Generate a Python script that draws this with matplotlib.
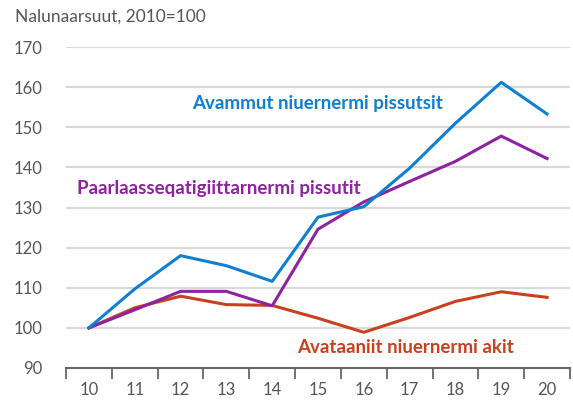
import matplotlib
matplotlib.use('Agg')
import matplotlib.pyplot as plt
from matplotlib.ticker import FixedLocator

plt.rcParams['font.family'] = ['Lato', 'DejaVu Sans']

years = [10, 11, 12, 13, 14, 15, 16, 17, 18, 19, 20]
year_labels = ['10', '11', '12', '13', '14', '15', '16', '17', '18', '19', '20']
avammut = [100, 109.7, 118.0, 115.5, 111.6, 127.6, 130.2, 139.8, 151.0, 161.2, 153.3]
paarlaasseq = [100, 104.5, 109.1, 109.1, 105.5, 124.6, 131.4, 136.5, 141.5, 147.8, 142.2]
avataaniit = [100, 105.0, 107.9, 105.8, 105.6, 102.4, 98.9, 102.6, 106.6, 109.0, 107.6]

blue = '#0f7fd2'
purple = '#8e22a0'
red = '#c8401e'
grey_txt = '#555555'

fig = plt.figure(figsize=(5.73, 4.01), dpi=100)
ax = fig.add_axes([66/573, 33/401, 504/573, 321/401])

ax.set_ylim(90, 170)
ax.set_xlim(9.5, 20.5)
for v in range(100, 171, 10):
    ax.axhline(v, color='#d9d9d9', lw=1.6, zorder=0)

ax.plot(years, avataaniit, color=red, lw=2.2, zorder=3)
ax.plot(years, paarlaasseq, color=purple, lw=2.2, zorder=4)
ax.plot(years, avammut, color=blue, lw=2.2, zorder=5)

ax.set_xticks(years)
ax.set_xticklabels(year_labels)
ax.xaxis.set_minor_locator(FixedLocator([y - 0.5 for y in years] + [20.5]))
ax.tick_params(axis='x', which='major', length=0, pad=10, labelsize=12, labelcolor=grey_txt)
ax.tick_params(axis='x', which='minor', length=8, width=1.3, color='#666666', direction='out')
ax.tick_params(axis='y', length=0, pad=17, labelsize=12, labelcolor=grey_txt)
ax.set_yticks([90] + list(range(100, 171, 10)))

for s in ['top', 'right', 'left']:
    ax.spines[s].set_visible(False)
ax.spines['bottom'].set_color('#666666')
ax.spines['bottom'].set_linewidth(1.5)

fig.text(15/573, 1 - 17/401, 'Nalunaarsuut, 2010=100', fontsize=12.5, color=grey_txt, va='center', ha='left')

ax.text(15.0, 155.8, 'Avammut niuernermi pissutsit', color=blue, fontsize=13.5, fontweight='bold', ha='center', va='center')
ax.text(9.74, 134.8, 'Paarlaasseqatigiittarnermi pissutit', color=purple, fontsize=13.5, fontweight='bold', ha='left', va='center')
ax.text(16.92, 95.2, 'Avataaniit niuernermi akit', color=red, fontsize=13.5, fontweight='bold', ha='center', va='center')

plt.savefig('out.png', dpi=100)
